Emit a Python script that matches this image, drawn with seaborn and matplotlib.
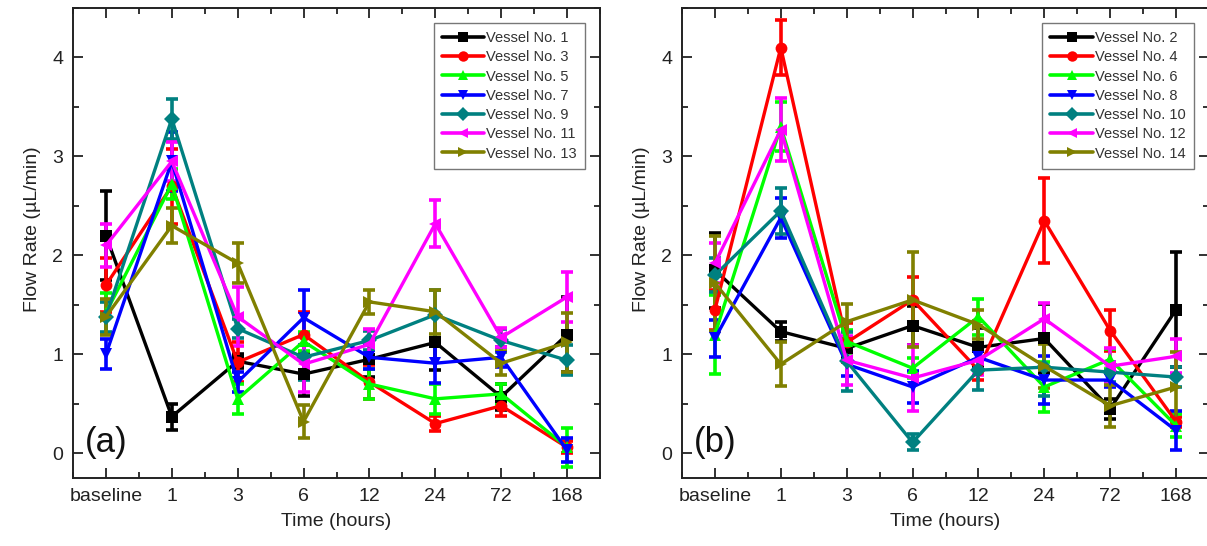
import numpy as np
import pandas as pd
import matplotlib
matplotlib.use("Agg")
import matplotlib.pyplot as plt
from matplotlib.lines import Line2D
from matplotlib.ticker import MultipleLocator, FixedLocator
import seaborn as sns

# ---------------- data ----------------
categories = ['baseline', '1', '3', '6', '12', '24', '72', '168']

labels_a = ['Vessel No. 1', 'Vessel No. 3', 'Vessel No. 5', 'Vessel No. 7',
            'Vessel No. 9', 'Vessel No. 11', 'Vessel No. 13']
labels_b = ['Vessel No. 2', 'Vessel No. 4', 'Vessel No. 6', 'Vessel No. 8',
            'Vessel No. 10', 'Vessel No. 12', 'Vessel No. 14']

# panel (a) means / error
v1 = [2.20, 0.37, 0.93, 0.80, 0.95, 1.12, 0.57, 1.20]
e1 = [0.45, 0.13, 0.07, 0.22, 0.18, 0.28, 0.13, 0.38]
v3 = [1.70, 2.70, 0.92, 1.20, 0.72, 0.30, 0.48, 0.06]
e3 = [0.27, 0.38, 0.20, 0.23, 0.17, 0.08, 0.10, 0.06]
v5 = [1.42, 2.72, 0.55, 1.13, 0.70, 0.55, 0.60, 0.06]
e5 = [0.20, 0.15, 0.15, 0.10, 0.15, 0.15, 0.10, 0.20]
v7 = [1.00, 2.95, 0.72, 1.37, 0.97, 0.91, 0.97, 0.03]
e7 = [0.15, 0.30, 0.10, 0.28, 0.12, 0.20, 0.10, 0.12]
v9 = [1.38, 3.38, 1.26, 0.97, 1.14, 1.40, 1.14, 0.94]
e9 = [0.15, 0.20, 0.10, 0.23, 0.10, 0.25, 0.12, 0.15]
v11 = [2.10, 2.95, 1.38, 0.90, 1.10, 2.32, 1.17, 1.58]
e11 = [0.22, 0.20, 0.30, 0.28, 0.16, 0.24, 0.10, 0.25]
v13 = [1.38, 2.30, 1.92, 0.32, 1.53, 1.43, 0.91, 1.12]
e13 = [0.18, 0.18, 0.20, 0.17, 0.12, 0.22, 0.12, 0.30]

# panel (b) means / error
v2 = [1.85, 1.23, 1.06, 1.29, 1.07, 1.16, 0.45, 1.45]
e2 = [0.38, 0.10, 0.10, 0.20, 0.20, 0.35, 0.10, 0.58]
v4 = [1.45, 4.10, 1.12, 1.55, 0.84, 2.35, 1.24, 0.32]
e4 = [0.20, 0.28, 0.20, 0.23, 0.10, 0.43, 0.21, 0.05]
v6 = [1.20, 3.30, 1.13, 0.86, 1.38, 0.67, 0.95, 0.28]
e6 = [0.40, 0.25, 0.12, 0.10, 0.18, 0.25, 0.10, 0.12]
v8 = [1.16, 2.38, 0.90, 0.67, 0.97, 0.74, 0.74, 0.23]
e8 = [0.19, 0.20, 0.12, 0.16, 0.12, 0.24, 0.07, 0.20]
v10 = [1.80, 2.45, 0.93, 0.11, 0.84, 0.87, 0.82, 0.77]
e10 = [0.17, 0.23, 0.30, 0.08, 0.20, 0.29, 0.10, 0.10]
v12 = [1.92, 3.27, 0.94, 0.76, 0.94, 1.36, 0.88, 0.98]
e12 = [0.20, 0.32, 0.25, 0.33, 0.15, 0.16, 0.18, 0.17]
v14 = [1.72, 0.90, 1.33, 1.55, 1.30, 0.88, 0.48, 0.67]
e14 = [0.48, 0.22, 0.18, 0.48, 0.15, 0.22, 0.21, 0.35]

values_a = [v1, v3, v5, v7, v9, v11, v13]
errors_a = [e1, e3, e5, e7, e9, e11, e13]
values_b = [v2, v4, v6, v8, v10, v12, v14]
errors_b = [e2, e4, e6, e8, e10, e12, e14]

colors = ['#000000', '#ff0000', '#00ff00', '#0000ff', '#008080', '#ff00ff', '#808000']
markers = ['s', 'o', '^', 'v', 'D', '<', '>']

# ---------------- style ----------------
sns.set_theme(style='ticks')
plt.rcParams['font.family'] = ['Liberation Sans', 'DejaVu Sans']
plt.rcParams['axes.linewidth'] = 1.4

W, H = 1207, 546
fig = plt.figure(figsize=(W / 100, H / 100), dpi=100)
axA = fig.add_axes([73 / W, (H - 478) / H, 527 / W, 470 / H])
axB = fig.add_axes([682 / W, (H - 478) / H, 527 / W, 470 / H])


def long_frame(labels, values, errors):
    rows = []
    for lab, vals, errs in zip(labels, values, errors):
        for i, (v, e) in enumerate(zip(vals, errs)):
            rows.append({'vessel': lab, 'pos': i, 'time': categories[i],
                         'flow': v, 'err': e})
    return pd.DataFrame(rows)


def draw(ax, labels, values, errors, tag):
    df = long_frame(labels, values, errors)
    for k, lab in enumerate(labels):
        sub = df[df['vessel'] == lab]
        ax.errorbar(sub['pos'], sub['flow'], yerr=sub['err'], fmt='none',
                    ecolor=colors[k], elinewidth=2.6, capsize=4.5,
                    capthick=2.6, zorder=2 + k * 0.1)
    sns.lineplot(data=df, x='pos', y='flow', hue='vessel', style='vessel',
                 hue_order=labels, style_order=labels,
                 palette=colors, markers=markers, dashes=False,
                 sort=False, linewidth=2.4, markersize=8.5,
                 markeredgewidth=0, legend=False, ax=ax, zorder=3)

    ax.set_xlim(-0.5, 7.5)
    ax.set_ylim(-0.25, 4.5)
    ax.xaxis.set_major_locator(FixedLocator(range(len(categories))))
    ax.set_xticklabels(categories)
    ax.xaxis.set_minor_locator(FixedLocator(np.arange(-0.5, 8.0, 1.0)))
    ax.yaxis.set_major_locator(MultipleLocator(1))
    ax.yaxis.set_minor_locator(MultipleLocator(0.5))
    ax.tick_params(which='both', direction='in', top=True, right=True,
                   width=1.3, color='#222222')
    ax.tick_params(which='major', length=7, labelsize=14, pad=7,
                   labelcolor='#222222')
    ax.tick_params(which='minor', length=4.5)
    ax.set_xlabel('Time (hours)', fontsize=14, labelpad=6, color='#222222')
    ax.set_ylabel('Flow Rate (\u00b5L/min)', fontsize=14, labelpad=8,
                  color='#222222')
    ax.yaxis.set_label_coords(-0.06, 0.53)
    for sp in ax.spines.values():
        sp.set_linewidth(1.4)
        sp.set_color('#222222')

    ax.text(0.022, 0.075, tag, transform=ax.transAxes, fontsize=25,
            ha='left', va='center', color='#111111')

    handles = [Line2D([], [], color=c, marker=m, markersize=7.5, linewidth=2.6,
                      markeredgewidth=0) for c, m in zip(colors, markers)]
    leg = ax.legend(handles, labels, loc='upper right',
                    bbox_to_anchor=(0.971, 0.968), borderaxespad=0,
                    fontsize=10.5, frameon=True, fancybox=False,
                    handlelength=2.9, handletextpad=0.15, labelspacing=0.36,
                    borderpad=0.55)
    leg.get_frame().set_edgecolor('#555555')
    leg.get_frame().set_linewidth(1.0)
    for t in leg.get_texts():
        t.set_color('#333333')


draw(axA, labels_a, values_a, errors_a, '(a)')
draw(axB, labels_b, values_b, errors_b, '(b)')

fig.savefig('out.png', dpi=100)
